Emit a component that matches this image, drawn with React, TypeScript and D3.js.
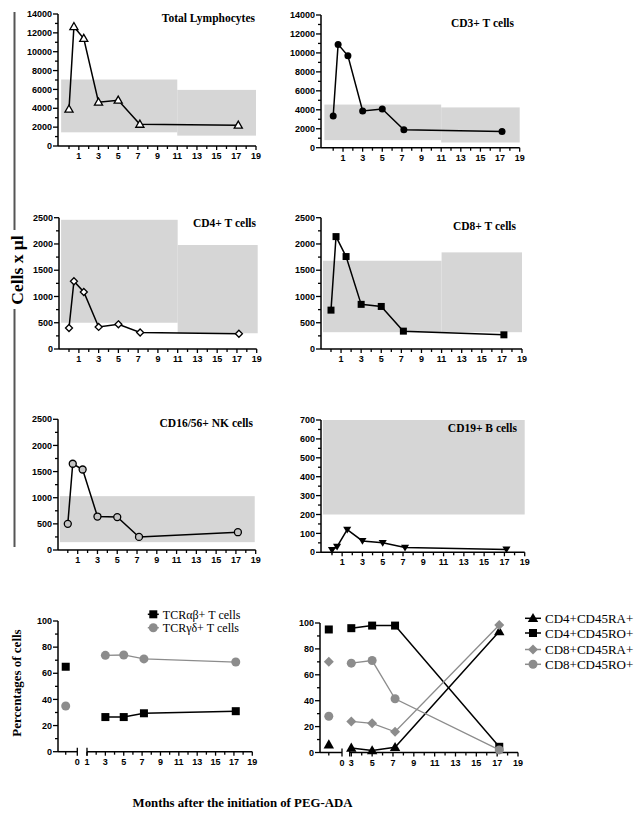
import React from 'react';
import * as d3 from 'd3';

// ---------- DATA ----------
const monthsTop = [0, 0.5, 1.5, 3, 5, 7.2, 17.2];
const totalLymph = [3900, 12650, 11400, 4650, 4850, 2300, 2200];
const cd3 = [3350, 10900, 9700, 3870, 4080, 1900, 1700];
const cd4 = [400, 1290, 1085, 420, 470, 315, 290];
const cd8 = [740, 2140, 1760, 850, 810, 340, 270];
const nk = [500, 1650, 1540, 640, 630, 250, 340];
const cd19 = [12, 30, 120, 60, 50, 25, 15];

const totalBands = [
  { from: -0.8, to: 11, low: 1450, high: 7050 },
  { from: 11, to: 19, low: 1100, high: 5950 },
];
const cd3Bands = [
  { from: -0.9, to: 11, low: 800, high: 4550 },
  { from: 11, to: 19, low: 550, high: 4250 },
];
const cd4Bands = [
  { from: -0.8, to: 11, low: 500, high: 2460 },
  { from: 11, to: 19.1, low: 300, high: 1980 },
];
const cd8Bands = [
  { from: -0.8, to: 11, low: 320, high: 1680 },
  { from: 11, to: 19, low: 320, high: 1840 },
];
const nkBands = [{ from: -0.8, to: 18.9, low: 150, high: 1030 }];
const cd19Bands = [{ from: -0.9, to: 19, low: 200, high: 700 }];

// bottom panels: baseline (pre-treatment) value + post months
const preMonth = -0.6;
const monthsBottom = [3, 5, 7.2, 17.2];
const tcrABPre = 65;
const tcrAB = [26.5, 26.5, 29.4, 31];
const tcrGDPre = 35;
const tcrGD = [73.7, 74, 71, 68.6];

const cd4raPre = 6;
const cd4ra = [3.5, 1.5, 4, 93.5];
const cd4roPre = 95;
const cd4ro = [96, 98, 98, 4.4];
const cd8raPre = 70;
const cd8ra = [24, 22.5, 16, 98.5];
const cd8roPre = 28;
const cd8ro = [69, 71, 41.5, 2];

const xTickValues = d3.range(0, 20);

// ---------- STYLE ----------
const serif = '"Liberation Serif", "Times New Roman", serif';
const sans = '"Liberation Sans", Arial, sans-serif';
const BAND = '#d6d6d6';
const GRAY = '#8c8c8c';

type MarkerType = 'triUpOpen' | 'circle' | 'diamondOpen' | 'square' | 'circleGray' | 'triDown' | 'triUp' | 'diamondGray' | 'circleGrayBig';

function Marker({ type, x, y, s = 7 }: { type: MarkerType; x: number; y: number; s?: number }) {
  const t = `translate(${x},${y})`;
  const h = s / 2;
  switch (type) {
    case 'triUpOpen':
      return <path transform={t} d={`M0,${-s * 0.6}L${s * 0.58},${s * 0.42}L${-s * 0.58},${s * 0.42}Z`} fill="#fff" stroke="#000" strokeWidth={1.3} />;
    case 'triUp':
      return <path transform={t} d={`M0,${-s * 0.6}L${s * 0.58},${s * 0.42}L${-s * 0.58},${s * 0.42}Z`} fill="#000" />;
    case 'triDown':
      return <path transform={t} d={`M0,${s * 0.55}L${s * 0.58},${-s * 0.42}L${-s * 0.58},${-s * 0.42}Z`} fill="#000" />;
    case 'circle':
      return <circle cx={x} cy={y} r={h} fill="#000" />;
    case 'circleGray':
      return <circle cx={x} cy={y} r={h} fill="#c4c4c4" stroke="#000" strokeWidth={1.3} />;
    case 'circleGrayBig':
      return <circle cx={x} cy={y} r={h} fill={GRAY} />;
    case 'square':
      return <rect x={x - h} y={y - h} width={s} height={s} fill="#000" />;
    case 'diamondOpen':
      return <path transform={t} d={`M0,${-h}L${h},0L0,${h}L${-h},0Z`} fill="#fff" stroke="#000" strokeWidth={1.3} />;
    case 'diamondGray':
      return <path transform={t} d={`M0,${-h}L${h},0L0,${h}L${-h},0Z`} fill={GRAY} />;
  }
  return null;
}

type Band = { from: number; to: number; low: number; high: number };
type PanelCfg = {
  axisX: number; x0: number; x19: number; yBot: number; yTop: number;
  yMax: number; yMajor: number; yMinor: number;
  title: string; tx: number; ty: number; marker: MarkerType;
};

function YAxis({ axisX, y, yMax, yMajor, yMinor }: { axisX: number; y: d3.ScaleLinear<number, number>; yMax: number; yMajor: number; yMinor: number }) {
  const ticks = d3.range(0, yMax + yMinor / 2, yMinor);
  return (
    <g>
      <line x1={axisX} x2={axisX} y1={y(0)} y2={y(yMax)} stroke="#000" strokeWidth={1.5} />
      {ticks.map((v) => {
        const major = Math.abs(v / yMajor - Math.round(v / yMajor)) < 1e-6;
        return (
          <g key={v}>
            <line x1={axisX - (major ? 5 : 3)} x2={axisX} y1={y(v)} y2={y(v)} stroke="#000" strokeWidth={1.3} />
            {major && (
              <text x={axisX - 6} y={y(v)} dy="0.35em" textAnchor="end" fontFamily={sans} fontWeight="bold" fontSize={9}>
                {v}
              </text>
            )}
          </g>
        );
      })}
    </g>
  );
}

function Panel({ cfg, values, bands }: { cfg: PanelCfg; values: number[]; bands: Band[] }) {
  const x = d3.scaleLinear().domain([0, 19]).range([cfg.x0, cfg.x19]);
  const y = d3.scaleLinear().domain([0, cfg.yMax]).range([cfg.yBot, cfg.yTop]);
  const line = d3.line<number>().x((_, i) => x(monthsTop[i])).y((d) => y(d));
  return (
    <g>
      {bands.map((b, i) => (
        <rect key={i} x={x(b.from)} width={x(b.to) - x(b.from)} y={y(b.high)} height={y(b.low) - y(b.high)} fill={BAND} />
      ))}
      <YAxis axisX={cfg.axisX} y={y} yMax={cfg.yMax} yMajor={cfg.yMajor} yMinor={cfg.yMinor} />
      <line x1={cfg.axisX} x2={x(19)} y1={cfg.yBot} y2={cfg.yBot} stroke="#000" strokeWidth={1.5} />
      {xTickValues.map((m) => (
        <g key={m}>
          <line x1={x(m)} x2={x(m)} y1={cfg.yBot} y2={cfg.yBot + (m % 2 ? 4 : 3)} stroke="#000" strokeWidth={1.3} />
          {m % 2 === 1 && (
            <text x={x(m)} y={cfg.yBot + 13} textAnchor="middle" fontFamily={sans} fontWeight="bold" fontSize={9}>
              {m}
            </text>
          )}
        </g>
      ))}
      <path d={line(values) || ''} fill="none" stroke="#000" strokeWidth={1.5} />
      {values.map((v, i) => (
        <Marker key={i} type={cfg.marker} x={x(monthsTop[i])} y={y(v)} s={7} />
      ))}
      <text x={cfg.tx} y={cfg.ty} textAnchor="end" fontFamily={serif} fontWeight="bold" fontSize={11.5}>
        {cfg.title}
      </text>
    </g>
  );
}

const panels: { cfg: PanelCfg; values: number[]; bands: Band[] }[] = [
  { cfg: { axisX: 58, x0: 69, x19: 256, yBot: 146, yTop: 14, yMax: 14000, yMajor: 2000, yMinor: 1000, title: 'Total Lymphocytes', tx: 255, ty: 22, marker: 'triUpOpen' }, values: totalLymph, bands: totalBands },
  { cfg: { axisX: 321, x0: 333.2, x19: 519.7, yBot: 147.7, yTop: 15, yMax: 14000, yMajor: 2000, yMinor: 1000, title: 'CD3+ T cells', tx: 514, ty: 26.5, marker: 'circle' }, values: cd3, bands: cd3Bands },
  { cfg: { axisX: 59, x0: 69, x19: 256.7, yBot: 349, yTop: 217.7, yMax: 2500, yMajor: 500, yMinor: 250, title: 'CD4+ T cells', tx: 256, ty: 227, marker: 'diamondOpen' }, values: cd4, bands: cd4Bands },
  { cfg: { axisX: 321, x0: 331, x19: 522, yBot: 349, yTop: 217.7, yMax: 2500, yMajor: 500, yMinor: 250, title: 'CD8+ T cells', tx: 516, ty: 230, marker: 'square' }, values: cd8, bands: cd8Bands },
  { cfg: { axisX: 58, x0: 67.8, x19: 255.7, yBot: 550, yTop: 419.3, yMax: 2500, yMajor: 500, yMinor: 250, title: 'CD16/56+ NK cells', tx: 253, ty: 427, marker: 'circleGray' }, values: nk, bands: nkBands },
  { cfg: { axisX: 321, x0: 332, x19: 524.7, yBot: 552.3, yTop: 420, yMax: 700, yMajor: 100, yMinor: 50, title: 'CD19+ B cells', tx: 517, ty: 432, marker: 'triDown' }, values: cd19, bands: cd19Bands },
];

type Series = { name: string; pre: number; post: number[]; marker: MarkerType; color: string; size: number };

function BrokenPanel({
  axisX, segAEnd, segBStart, bDomain, bRange, yBot, yTop, series, labelFrom,
}: {
  axisX: number; segAEnd: number; segBStart: number; bDomain: [number, number]; bRange: [number, number];
  yBot: number; yTop: number; series: Series[]; labelFrom: number;
}) {
  const y = d3.scaleLinear().domain([0, 100]).range([yBot, yTop]);
  const xA = d3.scaleLinear().domain([-1, 0]).range([axisX, segAEnd]);
  const xB = d3.scaleLinear().domain(bDomain).range(bRange);
  const line = d3.line<number>().x((_, i) => xB(monthsBottom[i])).y((d) => y(d));
  const bTicks = d3.range(Math.ceil(bDomain[0]), 20);
  return (
    <g>
      <YAxis axisX={axisX} y={y} yMax={100} yMajor={20} yMinor={10} />
      {/* segment A */}
      <line x1={axisX} x2={segAEnd} y1={yBot} y2={yBot} stroke="#000" strokeWidth={1.5} />
      <line x1={xA(preMonth)} x2={xA(preMonth)} y1={yBot} y2={yBot + 3} stroke="#000" strokeWidth={1.3} />
      <line x1={segAEnd} x2={segAEnd} y1={yBot - 4} y2={yBot + 4} stroke="#000" strokeWidth={1.3} />
      <text x={segAEnd} y={yBot + 13} textAnchor="middle" fontFamily={sans} fontWeight="bold" fontSize={9}>0</text>
      {/* segment B */}
      <line x1={segBStart} x2={xB(19)} y1={yBot} y2={yBot} stroke="#000" strokeWidth={1.5} />
      <line x1={segBStart} x2={segBStart} y1={yBot - 4} y2={yBot + 4} stroke="#000" strokeWidth={1.3} />
      {bTicks.map((m) => (
        <g key={m}>
          <line x1={xB(m)} x2={xB(m)} y1={yBot} y2={yBot + (m % 2 ? 4 : 3)} stroke="#000" strokeWidth={1.3} />
          {m % 2 === 1 && m >= labelFrom && (
            <text x={xB(m)} y={yBot + 13} textAnchor="middle" fontFamily={sans} fontWeight="bold" fontSize={9}>
              {m}
            </text>
          )}
        </g>
      ))}
      {series.map((s) => (
        <g key={s.name}>
          <path d={line(s.post) || ''} fill="none" stroke={s.color} strokeWidth={s.color === '#000' ? 1.5 : 1.3} />
          <Marker type={s.marker} x={xA(preMonth)} y={y(s.pre)} s={s.size} />
          {s.post.map((v, i) => (
            <Marker key={i} type={s.marker} x={xB(monthsBottom[i])} y={y(v)} s={s.size} />
          ))}
        </g>
      ))}
    </g>
  );
}

function Legend({ x, ys, series, fontSize, lineHalf }: { x: number; ys: number[]; series: Series[]; fontSize: number; lineHalf: number }) {
  return (
    <g>
      {series.map((s, i) => (
        <g key={s.name}>
          <line x1={x - lineHalf} x2={x + lineHalf} y1={ys[i]} y2={ys[i]} stroke={s.color} strokeWidth={1.5} />
          <Marker type={s.marker} x={x} y={ys[i]} s={s.size} />
          <text x={x + lineHalf + 4} y={ys[i]} dy="0.35em" fontFamily={serif} fontSize={fontSize}>
            {s.name}
          </text>
        </g>
      ))}
    </g>
  );
}

const tcrSeries: Series[] = [
  { name: 'TCRαβ+ T cells', pre: tcrABPre, post: tcrAB, marker: 'square', color: '#000', size: 8 },
  { name: 'TCRγδ+ T cells', pre: tcrGDPre, post: tcrGD, marker: 'circleGrayBig', color: GRAY, size: 9 },
];
const cd45Series: Series[] = [
  { name: 'CD4+CD45RA+', pre: cd4raPre, post: cd4ra, marker: 'triUp', color: '#000', size: 9 },
  { name: 'CD4+CD45RO+', pre: cd4roPre, post: cd4ro, marker: 'square', color: '#000', size: 8 },
  { name: 'CD8+CD45RA+', pre: cd8raPre, post: cd8ra, marker: 'diamondGray', color: GRAY, size: 10 },
  { name: 'CD8+CD45RO+', pre: cd8roPre, post: cd8ro, marker: 'circleGrayBig', color: GRAY, size: 9 },
];

export default function App() {
  return (
    <svg width={636} height={819} style={{ position: 'absolute', left: 0, top: 0, display: 'block', background: '#fff' }}>
      <rect width={636} height={819} fill="#fff" />
      {panels.map((p, i) => (
        <Panel key={i} cfg={p.cfg} values={p.values} bands={p.bands} />
      ))}
      {/* left group bracket & label */}
      <line x1={14.5} x2={14.5} y1={12} y2={230} stroke="#555" strokeWidth={2} />
      <line x1={14.5} x2={14.5} y1={309} y2={547} stroke="#555" strokeWidth={2} />
      <text transform="translate(22.5,270) rotate(-90)" textAnchor="middle" fontFamily={serif} fontWeight="bold" fontSize={17.5}>
        Cells x µl
      </text>

      <BrokenPanel axisX={58} segAEnd={77.3} segBStart={87} bDomain={[1, 19]} bRange={[87, 252.3]} yBot={751.7} yTop={621} series={tcrSeries} labelFrom={1} />
      <Legend x={153.3} ys={[614.3, 627.7]} series={tcrSeries} fontSize={12} lineHalf={5.5} />
      <text transform="translate(21,683) rotate(-90)" textAnchor="middle" fontFamily={serif} fontWeight="bold" fontSize={13}>
        Percentages of cells
      </text>

      <BrokenPanel axisX={320} segAEnd={342} segBStart={349.7} bDomain={[3, 19]} bRange={[351.3, 518]} yBot={752.5} yTop={623} series={cd45Series} labelFrom={3} />
      <Legend x={533} ys={[618.3, 633, 649.5, 664.3]} series={cd45Series} fontSize={13} lineHalf={8} />

      <text x={242.5} y={806.5} textAnchor="middle" fontFamily={serif} fontWeight="bold" fontSize={12.8}>
        Months after the initiation of PEG-ADA
      </text>
    </svg>
  );
}
